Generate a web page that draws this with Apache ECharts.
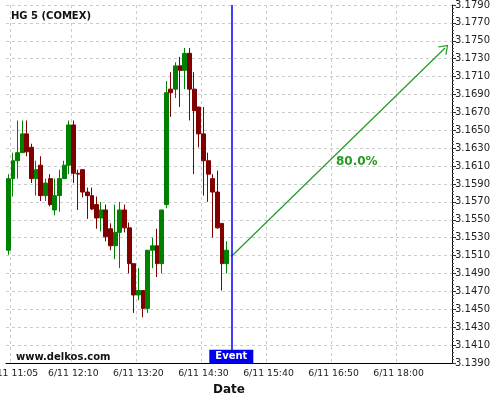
<!DOCTYPE html>
<html>
<head>
<meta charset="utf-8">
<script src="https://cdn.jsdelivr.net/npm/echarts@6/dist/echarts.min.js"></script>
<style>
  html, body { margin: 0; padding: 0; background: #fff; }
  #chart { width: 500px; height: 400px; }
</style>
</head>
<body>
<div id="chart"></div>
<script>
// 5 minute candles, 6/11 11:00 .. 14:55, [open, close, low, high]
const candleOpen  = [3.1516, 3.1596, 3.1616, 3.1625, 3.1646, 3.1631, 3.1596, 3.1611, 3.1577, 3.1596, 3.1561, 3.1577,
                     3.1596, 3.1611, 3.1656, 3.1602, 3.1606, 3.1581, 3.1577, 3.1567, 3.1552, 3.1561, 3.1540, 3.1521,
                     3.1536, 3.1561, 3.1541, 3.1501, 3.1466, 3.1471, 3.1451, 3.1516, 3.1521, 3.1501, 3.1567, 3.1696,
                     3.1696, 3.1722, 3.1717, 3.1736, 3.1696, 3.1676, 3.1646, 3.1616, 3.1596, 3.1581, 3.1546, 3.1501];
const candleClose = [3.1596, 3.1616, 3.1625, 3.1646, 3.1626, 3.1596, 3.1606, 3.1577, 3.1591, 3.1567, 3.1577, 3.1596,
                     3.1611, 3.1656, 3.1602, 3.1601, 3.1581, 3.1577, 3.1562, 3.1552, 3.1561, 3.1531, 3.1521, 3.1536,
                     3.1561, 3.1541, 3.1501, 3.1466, 3.1471, 3.1451, 3.1516, 3.1521, 3.1501, 3.1561, 3.1692, 3.1692,
                     3.1722, 3.1717, 3.1736, 3.1696, 3.1672, 3.1646, 3.1616, 3.1601, 3.1581, 3.1541, 3.1501, 3.1516];
const candleLow   = [3.1511, 3.1576, 3.1596, 3.1625, 3.1621, 3.1591, 3.1577, 3.1571, 3.1571, 3.1565, 3.1555, 3.1559,
                     3.1596, 3.1601, 3.1591, 3.1561, 3.1575, 3.1551, 3.1561, 3.1540, 3.1537, 3.1526, 3.1516, 3.1506,
                     3.1496, 3.1536, 3.1490, 3.1446, 3.1460, 3.1441, 3.1446, 3.1496, 3.1486, 3.1490, 3.1563, 3.1665,
                     3.1686, 3.1676, 3.1696, 3.1661, 3.1601, 3.1631, 3.1577, 3.1570, 3.1530, 3.1540, 3.1471, 3.1490];
const candleHigh  = [3.1601, 3.1625, 3.1661, 3.1661, 3.1661, 3.1635, 3.1616, 3.1621, 3.1596, 3.1601, 3.1596, 3.1606,
                     3.1616, 3.1661, 3.1661, 3.1606, 3.1606, 3.1586, 3.1586, 3.1576, 3.1570, 3.1567, 3.1546, 3.1567,
                     3.1570, 3.1567, 3.1547, 3.1501, 3.1496, 3.1471, 3.1516, 3.1530, 3.1540, 3.1561, 3.1705, 3.1715,
                     3.1726, 3.1732, 3.1742, 3.1742, 3.1715, 3.1676, 3.1676, 3.1625, 3.1601, 3.1605, 3.1546, 3.1526];

// x slots: every 5 minutes from 11:00 to 18:55
const dayLabel = '6/11';
const firstSlot = '11:00';
const slotCount = 96;
const tickTimes = ['11:05', '12:10', '13:20', '14:30', '15:40', '16:50', '18:00'];

// y axis ticks
const priceMin = 3.139;
const priceMax = 3.179;
const priceStep = 0.002;

// event and forecast
const eventTime = '15:00';
const forecastFrom = ['15:00', 3.1509];
const forecastTo = ['18:50', 3.1742];
const forecastText = '80.0%';
const forecastTextAt = ['17:15', 3.1615];
const eventBoxPrice = 3.1397;

function slotName(t) { return dayLabel + ' ' + t; }

const categories = [];
(function () {
    let [h, m] = firstSlot.split(':').map(Number);
    let start = h * 60 + m;
    for (let i = 0; i < slotCount; i++) {
        let t = start + i * 5;
        let hh = Math.floor(t / 60), mm = t % 60;
        categories.push(slotName(hh + ':' + (mm < 10 ? '0' : '') + mm));
    }
})();

const tickNames = tickTimes.map(slotName);
const candles = candleOpen.map((o, i) => [o, candleClose[i], candleLow[i], candleHigh[i]]);
const showTick = (idx, val) => tickNames.indexOf(val) >= 0;

const chart = echarts.init(document.getElementById('chart'));
const font = 'DejaVu Sans';
const arrowGreen = '#239a23';
chart.setOption({
    animation: false,
    textStyle: { fontFamily: font },
    title: [{
        text: 'HG 5 (COMEX)',
        left: 6,
        top: 6,
        textStyle: { fontSize: 10, fontWeight: 'bold', color: '#111', fontFamily: font }
    }, {
        text: 'www.delkos.com',
        left: 11,
        top: 347,
        textStyle: { fontSize: 10, fontWeight: 'bold', color: '#111', fontFamily: font }
    }],
    grid: { left: 6, right: 48, top: 5, bottom: 37, containLabel: false, outerBoundsMode: 'none' },
    xAxis: {
        type: 'category',
        data: categories,
        boundaryGap: true,
        name: 'Date',
        nameLocation: 'middle',
        nameGap: 21,
        nameTextStyle: { fontSize: 12, fontWeight: 'bold', color: '#111', fontFamily: font },
        axisLine: { lineStyle: { color: '#000', width: 1 } },
        axisTick: { alignWithLabel: true, interval: showTick, length: 3, lineStyle: { color: '#555' } },
        axisLabel: {
            interval: showTick,
            fontSize: 9.3,
            color: '#222',
            margin: 6,
            fontFamily: font
        },
        splitLine: { show: true, interval: showTick, lineStyle: { color: '#ccc', type: [3, 3] } }
    },
    yAxis: {
        type: 'value',
        position: 'right',
        min: priceMin,
        max: priceMax,
        interval: priceStep,
        axisLine: { show: true, lineStyle: { color: '#000', width: 1 } },
        axisTick: { show: true, length: 4, lineStyle: { color: '#333' } },
        minorTick: { show: true, splitNumber: 5, length: 2, lineStyle: { color: '#555' } },
        axisLabel: {
            fontSize: 10,
            color: '#222',
            margin: 3,
            fontFamily: font,
            formatter: v => v.toFixed(4)
        },
        splitLine: { show: true, lineStyle: { color: '#ccc', type: [3, 3] } }
    },
    series: [{
        type: 'candlestick',
        data: candles,
        barWidth: '94%',
        itemStyle: {
            color: '#008000',
            color0: '#800000',
            borderColor: '#008000',
            borderColor0: '#800000',
            borderWidth: 1
        },
        markLine: {
            silent: true,
            animation: false,
            symbol: ['none', 'none'],
            data: [
                [{
                    coord: [slotName(forecastFrom[0]), forecastFrom[1]],
                    symbol: 'none',
                    lineStyle: { color: arrowGreen, width: 1.2, type: 'solid' }
                }, {
                    coord: [slotName(forecastTo[0]), forecastTo[1]],
                    symbol: 'path://M0,10 L5,0 L10,10 L9.1,10.7 L5,2.4 L0.9,10.7 Z',
                    symbolSize: [12, 9]
                }],
                {
                    xAxis: slotName(eventTime),
                    lineStyle: { color: '#0000ff', width: 1.5, type: 'solid' }
                }
            ],
            label: { show: false }
        },
        markPoint: {
            silent: true,
            animation: false,
            data: [{
                coord: [slotName(eventTime), eventBoxPrice],
                symbol: 'rect',
                symbolSize: [44, 14],
                itemStyle: { color: '#0000ee' },
                label: { show: true, formatter: 'Event', color: '#fff', fontSize: 10, fontWeight: 'bold', fontFamily: font }
            }, {
                coord: [slotName(forecastTextAt[0]), forecastTextAt[1]],
                symbol: 'rect',
                symbolSize: 1,
                itemStyle: { color: 'rgba(0,0,0,0)' },
                label: { show: true, position: 'inside', formatter: forecastText, color: arrowGreen, fontSize: 12, fontWeight: 'bold', fontFamily: font }
            }]
        }
    }]
});
</script>
</body>
</html>
